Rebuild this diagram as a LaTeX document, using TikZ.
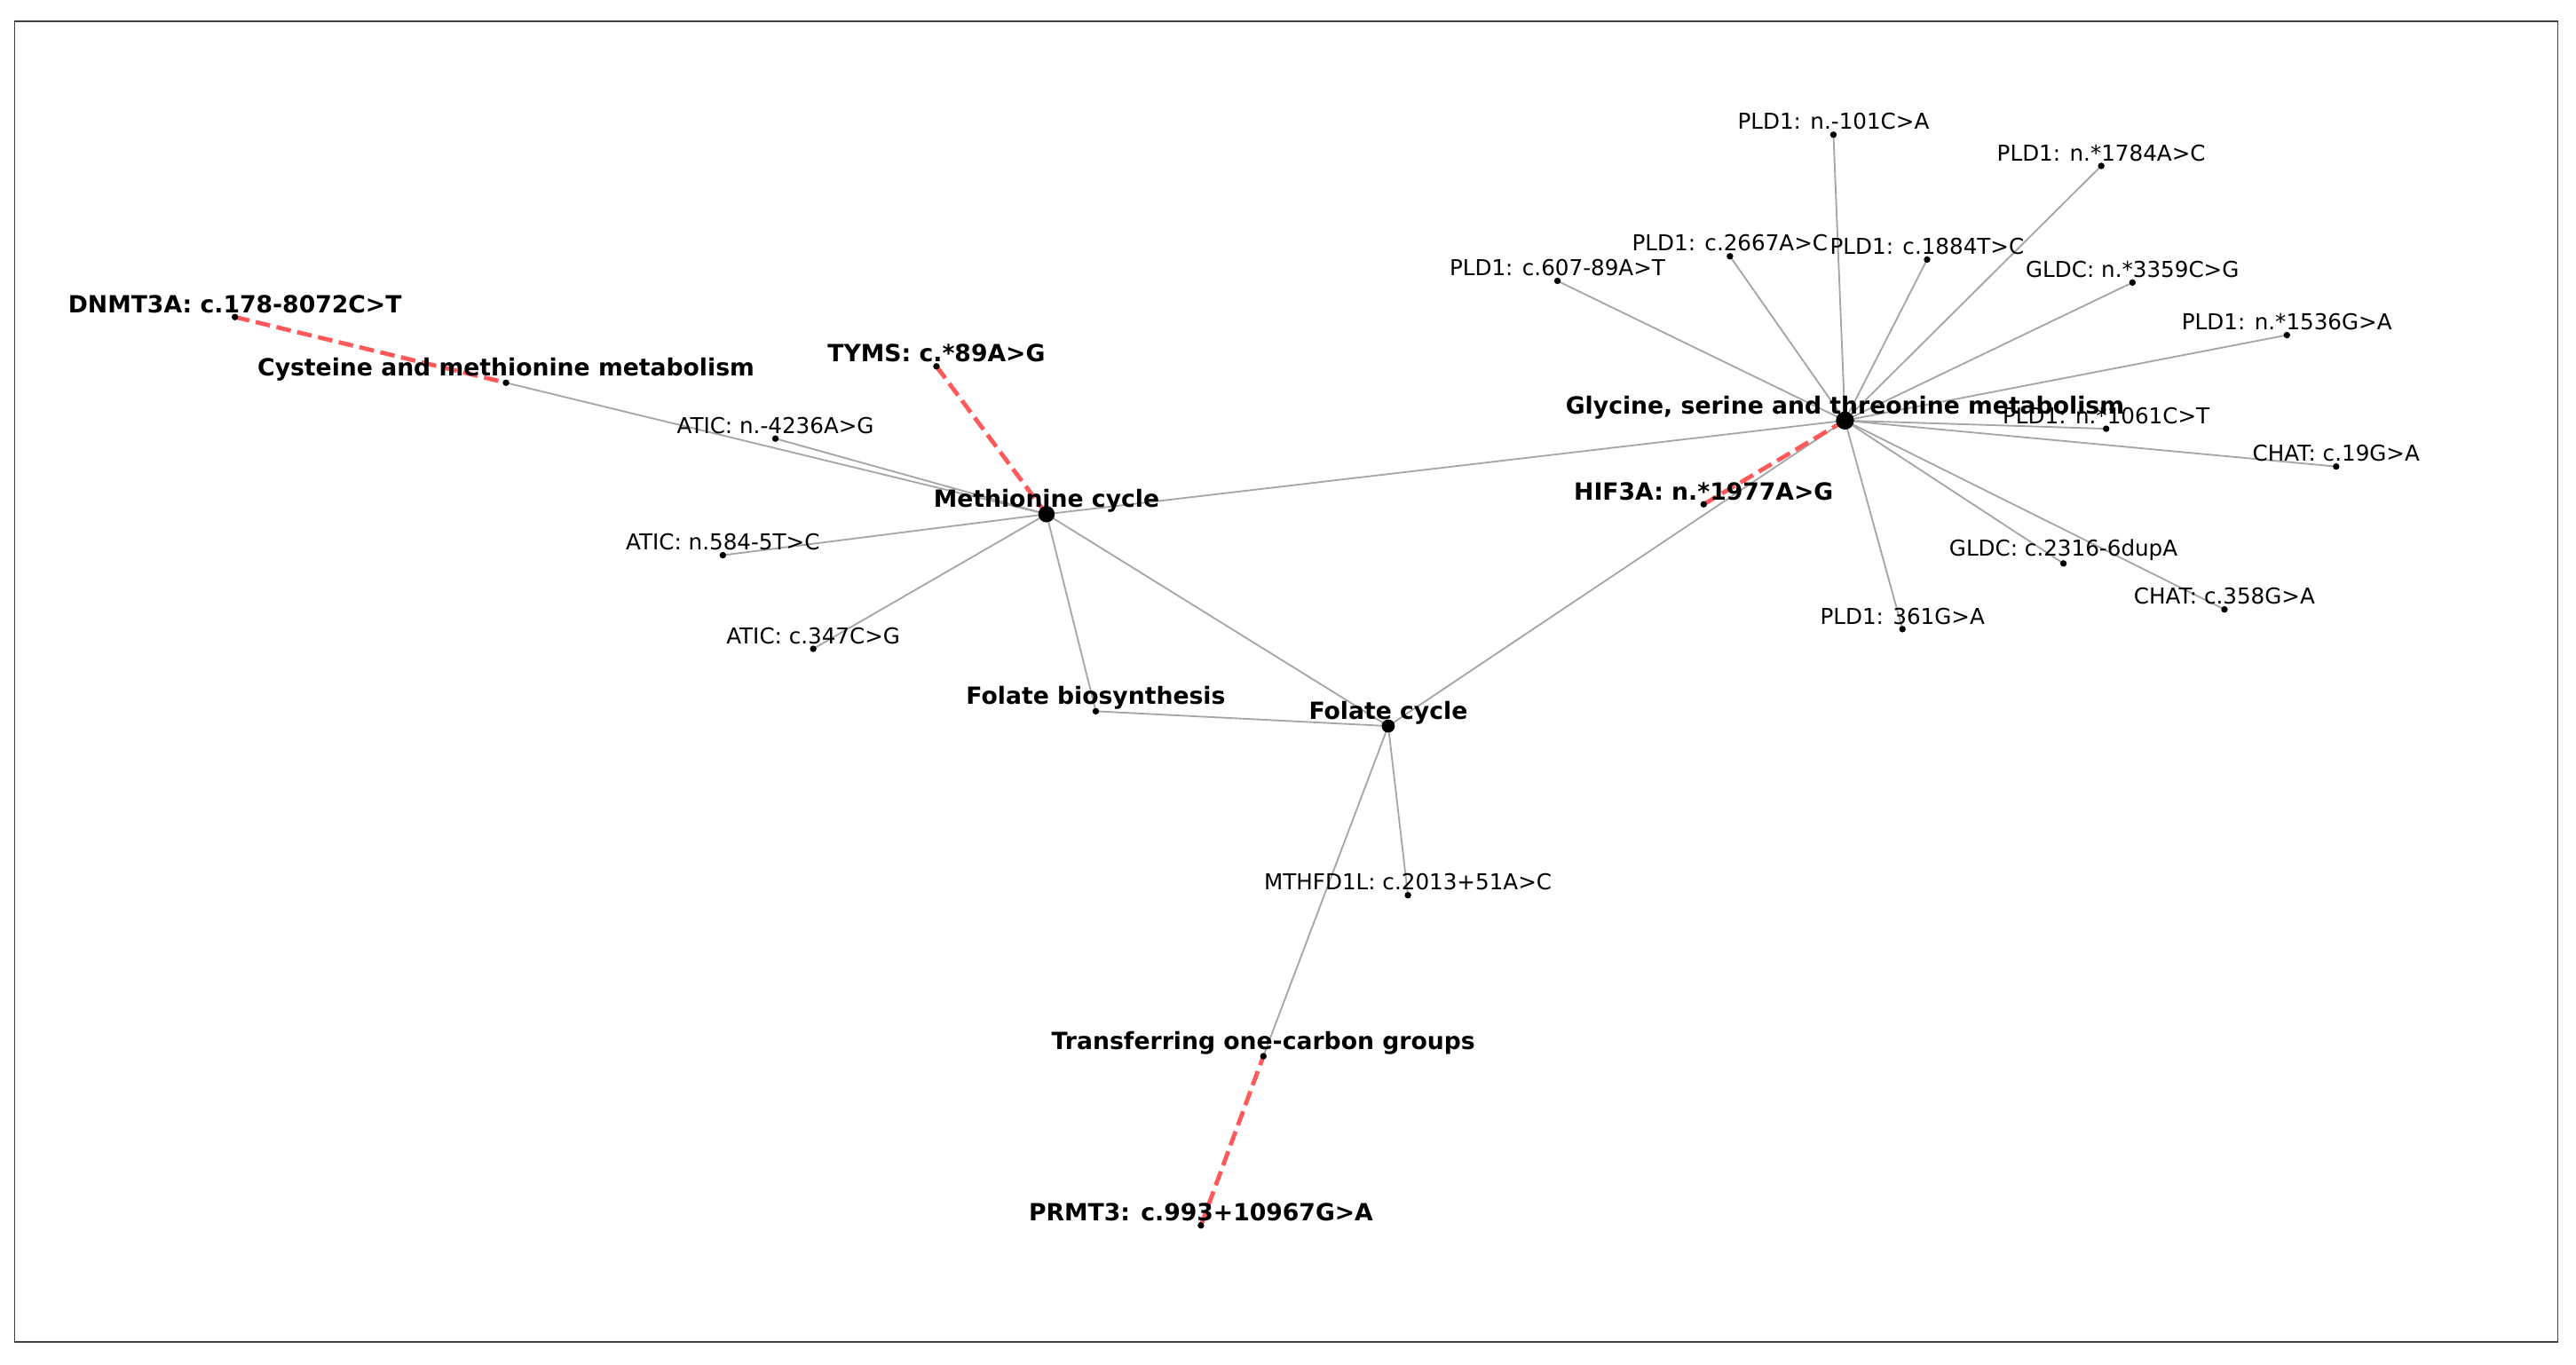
\documentclass[tikz,border=0pt]{standalone}
\usepackage{fontspec}
\setmainfont{DejaVu Sans}
\begin{document}
\begin{tikzpicture}[x=1pt,y=-1pt,
  dot/.style={circle,fill=black,inner sep=0pt,minimum size=#1},
  dot/.default=4pt,
  lab/.style={font=\fontsize{13.3}{15}\selectfont,yshift=8pt},
  blab/.style={font=\fontsize{14.4}{16}\selectfont\bfseries,yshift=8pt},
  edge/.style={draw=gray!70,line width=1pt},
  redge/.style={draw=red!65,line width=2.6pt,dash pattern=on 9pt off 4pt}]
\useasboundingbox (0,0) rectangle (1568,831);
\draw[line width=0.8pt,black!75] (9,13) rectangle (1557,817);
% coordinates
\coordinate (M) at (637,313);
\coordinate (G) at (1123,256);
\coordinate (FC) at (845,442);
\coordinate (FB) at (667,433);
\coordinate (CM) at (308,233);
\coordinate (T) at (769,643);
\coordinate (D) at (143,193);
\coordinate (TY) at (570,223);
\coordinate (H) at (1037,307);
\coordinate (P) at (731,746);
\coordinate (A1) at (472,267);
\coordinate (A2) at (440,338);
\coordinate (A3) at (495,395);
\coordinate (MT) at (857,545);
\coordinate (p1) at (1116,82);
\coordinate (p2) at (1279,101);
\coordinate (p3) at (1053,156);
\coordinate (p4) at (1173,158);
\coordinate (p5) at (948,171);
\coordinate (p6) at (1298,172);
\coordinate (p7) at (1392,204);
\coordinate (p8) at (1282,261);
\coordinate (p9) at (1422,284);
\coordinate (p10) at (1256,343);
\coordinate (p11) at (1354,371);
\coordinate (p12) at (1158,383);
% edges
\foreach \a/\b in {CM/M,A1/M,A2/M,A3/M,M/G,M/FB,M/FC,FB/FC,FC/G,FC/MT,FC/T,p1/G,p2/G,p3/G,p4/G,p5/G,p6/G,p7/G,p8/G,p9/G,p10/G,p11/G,p12/G}
  \draw[edge] (\a) -- (\b);
\foreach \a/\b in {D/CM,TY/M,H/G,P/T}
  \draw[redge] (\a) -- (\b);
% nodes
\node[dot=10pt,label={[blab]center:Methionine cycle}] (nM) at (M) {};
\node[dot=11pt,label={[blab]center:Glycine, serine and threonine metabolism}] (nG) at (G) {};
\node[dot=8pt,label={[blab]center:Folate cycle}] (nFC) at (FC) {};
\node[dot,label={[blab]center:Folate biosynthesis}] (nFB) at (FB) {};
\node[dot,label={[blab]center:Cysteine and methionine metabolism}] (nCM) at (CM) {};
\node[dot,label={[blab]center:Transferring one-carbon groups}] (nT) at (T) {};
\node[dot,label={[blab]center:DNMT3A: c.178-8072C>T}] (nD) at (D) {};
\node[dot,label={[blab]center:TYMS: c.*89A>G}] (nTY) at (TY) {};
\node[dot,label={[blab]center:HIF3A: n.*1977A>G}] (nH) at (H) {};
\node[dot,label={[blab]center:PRMT3: c.993+10967G>A}] (nP) at (P) {};
\node[dot,label={[lab]center:ATIC: n.-4236A>G}] (nA1) at (A1) {};
\node[dot,label={[lab]center:ATIC: n.584-5T>C}] (nA2) at (A2) {};
\node[dot,label={[lab]center:ATIC: c.347C>G}] (nA3) at (A3) {};
\node[dot,label={[lab]center:MTHFD1L: c.2013+51A>C}] (nMT) at (MT) {};
\node[dot,label={[lab]center:PLD1: n.-101C>A}] (n1) at (p1) {};
\node[dot,label={[lab]center:PLD1: n.*1784A>C}] (n2) at (p2) {};
\node[dot,label={[lab]center:PLD1: c.2667A>C}] (n3) at (p3) {};
\node[dot,label={[lab]center:PLD1: c.1884T>C}] (n4) at (p4) {};
\node[dot,label={[lab]center:PLD1: c.607-89A>T}] (n5) at (p5) {};
\node[dot,label={[lab]center:GLDC: n.*3359C>G}] (n6) at (p6) {};
\node[dot,label={[lab]center:PLD1: n.*1536G>A}] (n7) at (p7) {};
\node[dot,label={[lab]center:PLD1: n.*1061C>T}] (n8) at (p8) {};
\node[dot,label={[lab]center:CHAT: c.19G>A}] (n9) at (p9) {};
\node[dot,label={[lab]center:GLDC: c.2316-6dupA}] (n10) at (p10) {};
\node[dot,label={[lab]center:CHAT: c.358G>A}] (n11) at (p11) {};
\node[dot,label={[lab]center:PLD1: 361G>A}] (n12) at (p12) {};
\end{tikzpicture}
\end{document}
